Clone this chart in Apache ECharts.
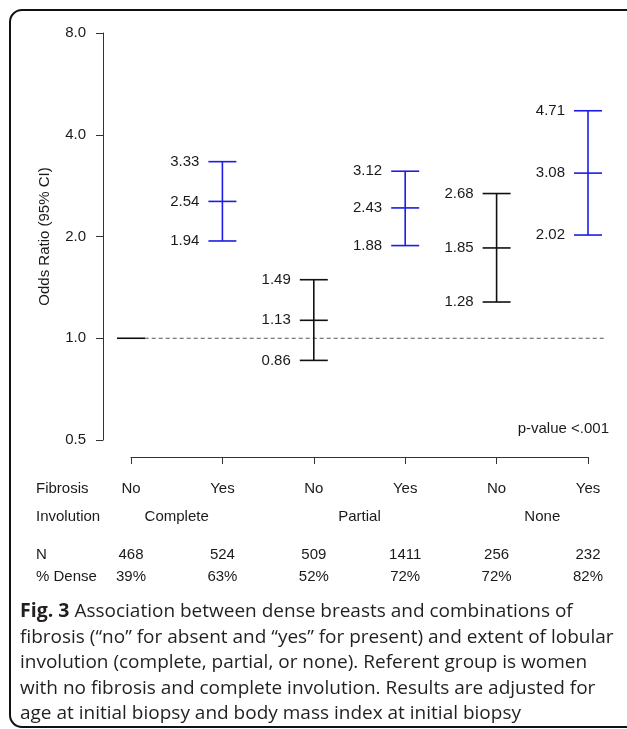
<!DOCTYPE html>
<html><head><meta charset="utf-8">
<script src="https://cdn.jsdelivr.net/npm/echarts@6/dist/echarts.min.js"></script>
<style>html,body{margin:0;padding:0;background:#fff}#c{width:627px;height:729px}</style>
</head><body><div id="c"></div>
<script>
// ---- data ----
const fibrosis = ['No', 'Yes', 'No', 'Yes', 'No', 'Yes'];
const involution = ['Complete', 'Partial', 'None'];
const nCounts = ['468', '524', '509', '1411', '256', '232'];
const pctDense = ['39%', '63%', '52%', '72%', '72%', '82%'];
const orLower = [1, 1.94, 0.86, 1.88, 1.28, 2.02];
const orEstimate = [1, 2.54, 1.13, 2.43, 1.85, 3.08];
const orUpper = [1, 3.33, 1.49, 3.12, 2.68, 4.71];
const referentGroup = [1, 0, 0, 0, 0, 0];
const yTickValues = [0.5, 1, 2, 4, 8];
const referenceOR = 1;
const pValueText = 'p-value <.001';
const yAxisTitle = 'Odds Ratio (95% CI)';
const rowHeaders = ['Fibrosis', 'Involution', 'N', '% Dense'];
const captionBold = 'Fig. 3';
const captionLines = [
  ' Association between dense breasts and combinations of',
  'fibrosis (\u201cno\u201d for absent and \u201cyes\u201d for present) and extent of lobular',
  'involution (complete, partial, or none). Referent group is women',
  'with no fibrosis and complete involution. Results are adjusted for',
  'age at initial biopsy and body mass index at initial biopsy'
];

// ---- styles ----
const FONT = '"Liberation Sans", Arial, Helvetica, sans-serif';
const CAPFONT = '"Open Sans", "Noto Sans", sans-serif';
const FS = 15;
const TXT = '#1a1a1a';
const BLUE = '#1c1ce6';
const BLACK = '#111111';
const AXIS = '#333333';

const seriesData = fibrosis.map((f, i) => [i, orLower[i], orEstimate[i], orUpper[i], referentGroup[i], f === 'Yes' ? 1 : 0]);

function renderItem(params, api) {
  const i = api.value(0), lo = api.value(1), mid = api.value(2), hi = api.value(3);
  const isRef = api.value(4) === 1;
  const color = api.value(5) === 1 ? BLUE : BLACK;
  const pLo = api.coord([i, lo]), pMid = api.coord([i, mid]), pHi = api.coord([i, hi]);
  const hw = 14;
  const st = () => ({ stroke: color, lineWidth: 1.6, fill: null });
  const cap = p => ({ type: 'line', shape: { x1: p[0] - hw, y1: p[1], x2: p[0] + hw, y2: p[1] }, style: st() });
  const children = [];
  if (isRef) {
    children.push(cap(pMid));
  } else {
    children.push({ type: 'line', shape: { x1: pHi[0], y1: pHi[1], x2: pLo[0], y2: pLo[1] }, style: st() });
    children.push(cap(pLo), cap(pMid), cap(pHi));
    [[pLo, lo], [pMid, mid], [pHi, hi]].forEach(([p, v]) => {
      children.push({ type: 'text', style: { text: v.toFixed(2), x: p[0] - 23, y: p[1], align: 'right', verticalAlign: 'middle', fontSize: FS, fontFamily: FONT, fill: TXT } });
    });
  }
  return { type: 'group', children };
}

// dashed reference line at OR = 1, from just right of the referent bar to the right edge
function renderRefLine(params, api) {
  const a = api.coord([api.value(0), api.value(2)]);
  const b = api.coord([api.value(1), api.value(2)]);
  return { type: 'line', shape: { x1: a[0], y1: a[1], x2: b[0], y2: b[1] },
    style: { stroke: '#555', lineWidth: 1, lineDash: [4, 3], fill: null } };
}

const rowAxisBase = {
  type: 'value', min: 0, max: 5, interval: 1, gridIndex: 0, position: 'bottom',
  axisLine: { show: false, onZero: false }, axisTick: { show: false }, splitLine: { show: false },
  nameLocation: 'start', nameGap: 95,
  nameTextStyle: { align: 'left', verticalAlign: 'middle', fontSize: FS, fontFamily: FONT, color: TXT }
};
const rowLabel = (fmt) => ({ margin: 0, verticalAlign: 'middle', fontSize: FS, fontFamily: FONT, color: TXT, formatter: fmt });

const option = {
  animation: false,
  backgroundColor: '#ffffff',
  grid: [{ left: 131, right: 39, top: 33, height: 407, containLabel: false }],
  xAxis: [
    { type: 'value', min: 0, max: 5, interval: 1, gridIndex: 0, position: 'bottom', offset: 17,
      axisLine: { show: true, onZero: false, lineStyle: { color: AXIS, width: 1 } },
      axisTick: { show: true, length: 7, lineStyle: { color: AXIS, width: 1 } },
      axisLabel: { show: false }, splitLine: { show: false } },
    Object.assign({}, rowAxisBase, { offset: 49, name: rowHeaders[0],
      axisLabel: rowLabel(v => fibrosis[Math.round(v)] || '') }),
    Object.assign({}, rowAxisBase, { offset: 77, interval: 0.5, name: rowHeaders[1],
      axisLabel: rowLabel(v => { const k = (v - 0.5) / 2; return Math.abs(k - Math.round(k)) < 1e-6 ? (involution[Math.round(k)] || '') : ''; }) }),
    Object.assign({}, rowAxisBase, { offset: 115, name: rowHeaders[2],
      axisLabel: rowLabel(v => nCounts[Math.round(v)] || '') }),
    Object.assign({}, rowAxisBase, { offset: 137, name: rowHeaders[3],
      axisLabel: rowLabel(v => pctDense[Math.round(v)] || '') })
  ],
  yAxis: [{
    type: 'log', logBase: 2, min: yTickValues[0], max: yTickValues[yTickValues.length - 1], gridIndex: 0,
    position: 'left', offset: 28,
    axisLine: { show: true, onZero: false, lineStyle: { color: AXIS, width: 1 } },
    axisTick: { show: true, length: 7, lineStyle: { color: AXIS, width: 1 } },
    axisLabel: { margin: 17, fontSize: FS, fontFamily: FONT, color: TXT, formatter: v => Number(v).toFixed(1) },
    splitLine: { show: false },
    name: yAxisTitle, nameLocation: 'middle', nameGap: 51,
    nameTextStyle: { fontSize: FS, fontFamily: FONT, color: TXT }
  }],
  series: [
    { type: 'custom', xAxisIndex: 0, yAxisIndex: 0, renderItem: renderRefLine, clip: false, silent: true,
      data: [[0.15, 5.2, referenceOR]], z: 1 },
    { type: 'custom', xAxisIndex: 0, yAxisIndex: 0, renderItem, data: seriesData, clip: false, z: 3 }
  ],
  graphic: [
    { type: 'rect', shape: { x: 10, y: 10, width: 640, height: 717, r: 12 }, style: { stroke: '#111', lineWidth: 2, fill: null }, silent: true },
    { type: 'text', right: 18, top: 421, style: { text: pValueText, fontSize: FS, fontFamily: FONT, fill: TXT } },
    { type: 'text', left: 20, top: 599, style: {
        text: '{b|' + captionBold + '}' + captionLines.join('\n'),
        fontSize: 19, fontFamily: CAPFONT, fill: '#231f20', lineHeight: 25.5,
        rich: { b: { fontSize: 19.5, fontWeight: 'bold', fontFamily: CAPFONT, fill: '#231f20', lineHeight: 25.5 } }
      } }
  ]
};

const chart = echarts.init(document.getElementById('c'), null, { renderer: 'canvas' });
chart.setOption(option);
</script>
</body></html>
